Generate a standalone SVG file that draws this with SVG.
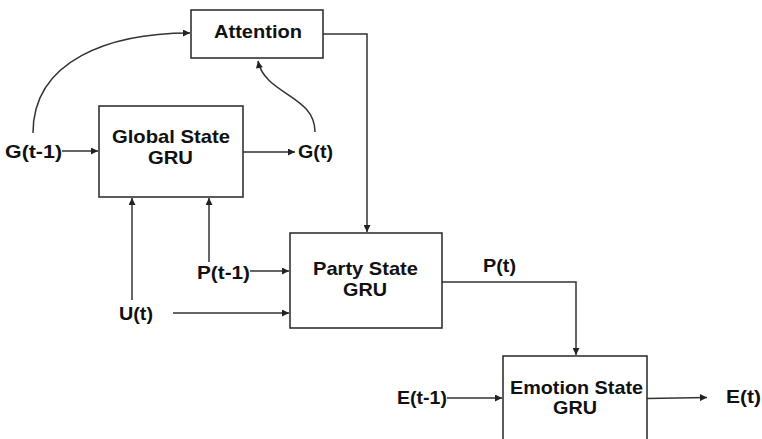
<svg xmlns="http://www.w3.org/2000/svg" width="762" height="439" viewBox="0 0 762 439">
<style>
.box{fill:#fff;stroke:#333;stroke-width:1.6}
.ln{fill:none;stroke:#333;stroke-width:1.5}
text{font-family:"Liberation Sans",Arial,sans-serif;font-weight:bold;font-size:19px;fill:#111}
.c{text-anchor:middle}
</style>
<defs>
<marker id="ah" viewBox="0 0 10 10" refX="10" refY="5" markerWidth="9" markerHeight="7" markerUnits="userSpaceOnUse" orient="auto">
<path d="M0,0 L10,5 L0,10 z" fill="#222"/>
</marker>
</defs>
<rect width="762" height="439" fill="#fff"/>
<g id="connectors">
<path class="ln" d="M33,133 C33,60 110,33 190,33" marker-end="url(#ah)"/>
<path class="ln" d="M315,132 C315,95 265,95 258,61" marker-end="url(#ah)"/>
<path class="ln" d="M323,34 H367 V232" marker-end="url(#ah)"/>
<path class="ln" d="M62,151 H98" marker-end="url(#ah)"/>
<path class="ln" d="M243,152 H295" marker-end="url(#ah)"/>
<path class="ln" d="M132,300 V198" marker-end="url(#ah)"/>
<path class="ln" d="M209,262 V198" marker-end="url(#ah)"/>
<path class="ln" d="M250,271 H289" marker-end="url(#ah)"/>
<path class="ln" d="M173,313 H289" marker-end="url(#ah)"/>
<path class="ln" d="M442,282 H576 V355" marker-end="url(#ah)"/>
<path class="ln" d="M447,398 H502" marker-end="url(#ah)"/>
<path class="ln" d="M647,398.5 L707,397.5" marker-end="url(#ah)"/>
</g>
<g id="attention">
<rect class="box" x="191" y="10" width="132" height="48"/>
<text x="214" y="38" textLength="88" lengthAdjust="spacingAndGlyphs">Attention</text>
</g>
<g id="global-gru">
<rect class="box" x="99" y="106" width="144" height="91"/>
<text x="112" y="143" textLength="118" lengthAdjust="spacingAndGlyphs">Global State</text>
<text x="148" y="164" textLength="45" lengthAdjust="spacingAndGlyphs">GRU</text>
</g>
<g id="party-gru">
<rect class="box" x="290" y="233" width="152" height="95"/>
<text x="313" y="275" textLength="105" lengthAdjust="spacingAndGlyphs">Party State</text>
<text x="343" y="296" textLength="44" lengthAdjust="spacingAndGlyphs">GRU</text>
</g>
<g id="emotion-gru">
<rect class="box" x="503" y="356" width="144" height="90"/>
<text x="510" y="394" textLength="133" lengthAdjust="spacingAndGlyphs">Emotion State</text>
<text x="553" y="414" textLength="44" lengthAdjust="spacingAndGlyphs">GRU</text>
</g>
<g id="labels">
<text x="5" y="158" textLength="57" lengthAdjust="spacingAndGlyphs">G(t-1)</text>
<text x="298" y="158" textLength="35" lengthAdjust="spacingAndGlyphs">G(t)</text>
<text x="197" y="279" textLength="53" lengthAdjust="spacingAndGlyphs">P(t-1)</text>
<text x="119" y="320" textLength="34" lengthAdjust="spacingAndGlyphs">U(t)</text>
<text x="483" y="272" textLength="33" lengthAdjust="spacingAndGlyphs">P(t)</text>
<text x="397" y="404" textLength="50" lengthAdjust="spacingAndGlyphs">E(t-1)</text>
<text x="726" y="403" textLength="35" lengthAdjust="spacingAndGlyphs">E(t)</text>
</g>
</svg>
